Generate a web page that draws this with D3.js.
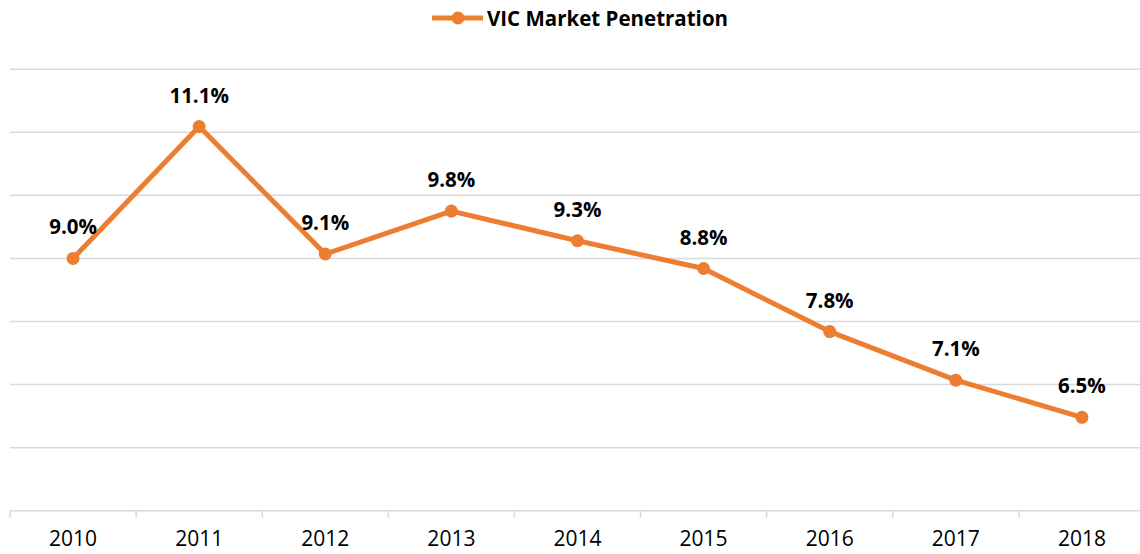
<!DOCTYPE html>
<html lang="en">
<head>
  <meta charset="UTF-8">
  <title>VIC Market Penetration</title>
  <script src="https://cdn.jsdelivr.net/npm/d3@7"></script>
  <style>
    body { margin: 0; background: #fff; }
    text { font-family: "Open Sans", sans-serif; }
    .grid line { stroke: #d9d9d9; stroke-width: 1.5; }
    .axis path, .axis line { stroke: #d9d9d9; stroke-width: 1.5; }
    .axis text { font-size: 21px; fill: #000; }
  </style>
</head>
<body>
<script>
var years = ["2010", "2011", "2012", "2013", "2014", "2015", "2016", "2017", "2018"];
var penetration = [9.0, 11.09, 9.07, 9.75, 9.28, 8.84, 7.84, 7.07, 6.48];
var yTicks = [5, 6, 7, 8, 9, 10, 11, 12];
var seriesName = "VIC Market Penetration";

var w = 1140, h = 554;
var color = "#ED7D31";

var svg = d3.select("body").append("svg")
  .attr("width", w)
  .attr("height", h);

var xScale = d3.scaleBand()
  .domain(years)
  .range([10, 1145]);

var yScale = d3.scaleLinear()
  .domain([5, 12])
  .range([510.7, 69.2]);

// gridlines (skip the bottom one, the axis line sits there)
svg.append("g").attr("class", "grid")
  .selectAll("line")
  .data(yTicks.slice(1))
  .enter().append("line")
  .attr("x1", 10)
  .attr("x2", w)
  .attr("y1", d => yScale(d))
  .attr("y2", d => yScale(d));

var xAxis = d3.axisBottom(xScale).tickSize(0).tickPadding(20);

var gx = svg.append("g")
  .attr("class", "axis")
  .attr("transform", `translate(0,${yScale(5)})`)
  .call(xAxis);
gx.select(".domain").attr("d", `M10,0H${w}`);

// tick marks at the band boundaries
gx.selectAll(".sep")
  .data(years)
  .enter().append("line")
  .attr("class", "sep")
  .attr("x1", d => xScale(d))
  .attr("x2", d => xScale(d))
  .attr("y1", 0)
  .attr("y2", 7);

var cx = d => xScale(d) + xScale.bandwidth() / 2;

var line = d3.line()
  .x((d, i) => cx(years[i]))
  .y(d => yScale(d));

svg.append("path")
  .datum(penetration)
  .attr("fill", "none")
  .attr("stroke", color)
  .attr("stroke-width", 5)
  .attr("stroke-linejoin", "round")
  .attr("d", line);

svg.selectAll(".dot")
  .data(penetration)
  .enter().append("circle")
  .attr("class", "dot")
  .attr("cx", (d, i) => cx(years[i]))
  .attr("cy", d => yScale(d))
  .attr("r", 6.5)
  .attr("fill", color);

svg.selectAll(".lbl")
  .data(penetration)
  .enter().append("text")
  .attr("class", "lbl")
  .attr("x", (d, i) => cx(years[i]))
  .attr("y", d => yScale(d) - 24)
  .attr("text-anchor", "middle")
  .attr("font-size", "20.5px")
  .attr("font-weight", "bold")
  .attr("fill", "#000")
  .text(d => d.toFixed(1) + "%");

// legend
var lg = svg.append("g");
lg.append("line")
  .attr("x1", 432).attr("x2", 483)
  .attr("y1", 18).attr("y2", 18)
  .attr("stroke", color)
  .attr("stroke-width", 5);
lg.append("circle")
  .attr("cx", 458).attr("cy", 18).attr("r", 6.5)
  .attr("fill", color);
lg.append("text")
  .attr("x", 487)
  .attr("y", 25.5)
  .attr("font-size", "20.5px")
  .attr("font-weight", "bold")
  .attr("fill", "#000")
  .text(seriesName);
</script>
</body>
</html>
